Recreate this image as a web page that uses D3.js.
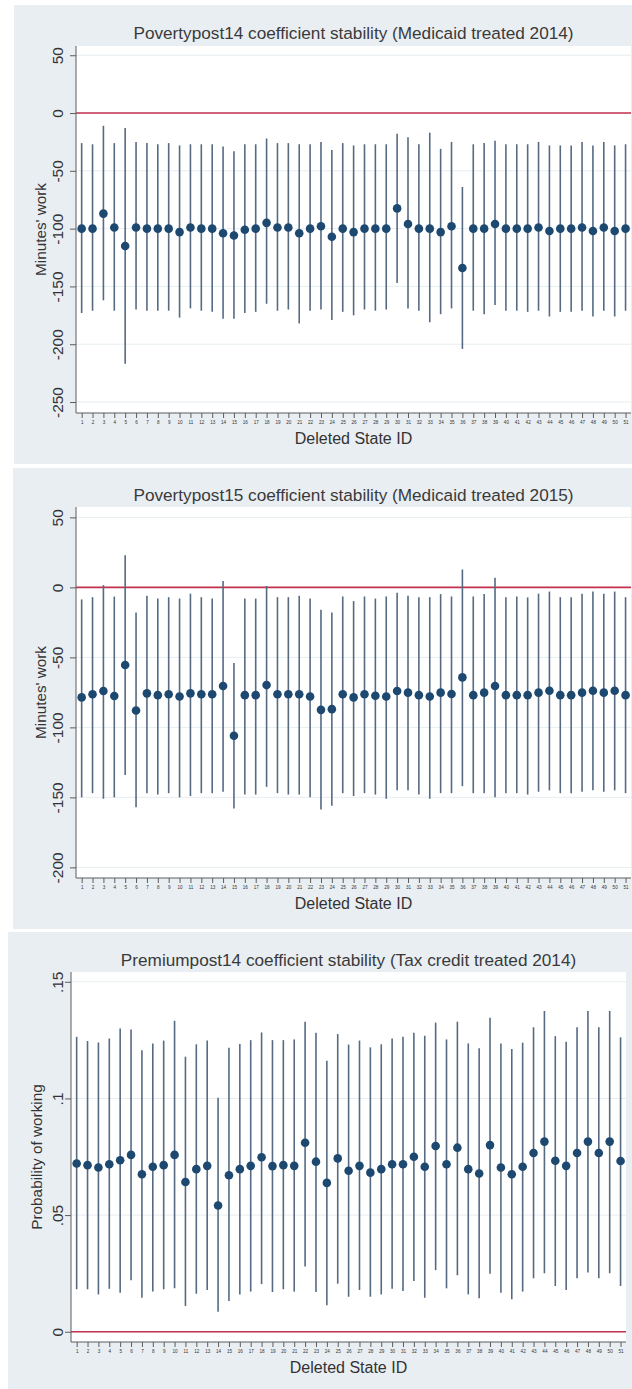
<!DOCTYPE html>
<html>
<head>
<meta charset="utf-8">
<script src="https://cdn.jsdelivr.net/npm/d3@7"></script>
<style>
  html, body { margin: 0; padding: 0; background: #ffffff; }
  svg { display: block; }
  text { font-family: "Liberation Sans", Arial, Helvetica, sans-serif; }
</style>
</head>
<body>
<svg id="chart" width="632" height="1389"></svg>
<script>
// Deleted state IDs (x categories)
const stateIds = [1,2,3,4,5,6,7,8,9,10,11,12,13,14,15,16,17,18,19,20,21,22,23,24,25,
  26,27,28,29,30,31,32,33,34,35,36,37,38,39,40,41,42,43,44,45,46,47,48,49,50,51];

// Povertypost14: point estimate and 95% CI (minutes of work)
const pov14Est = [-100,-100,-87,-99,-115,-99,-100,-100,-100,-103,-99,-100,-100,-104,-106,-101,-100,-95,-99,-99,
  -104,-100,-98,-107,-100,-103,-100,-100,-100,-82.5,-96,-100,-100,-103,-98,-134,-100,-100,-96,-100,
  -100,-100,-99,-102,-100,-100,-99,-102,-99,-102,-100];
const pov14Hi = [-26,-27,-11,-26,-13,-25,-26,-27,-26,-28,-27,-27,-27,-29,-33,-27,-27,-22,-26,-26,
  -27,-27,-25,-32,-26,-28,-27,-27,-27,-18,-21,-27,-17,-31,-25,-64,-27,-26,-24,-27,
  -27,-27,-25,-28,-28,-28,-25,-28,-25,-28,-27];
const pov14Lo = [-173,-171,-162,-171,-217,-170,-171,-171,-171,-177,-169,-171,-172,-178,-178,-173,-172,-165,-171,-170,
  -182,-171,-170,-179,-172,-175,-170,-171,-170,-147,-169,-171,-181,-174,-169,-204,-171,-174,-166,-171,
  -171,-172,-171,-176,-172,-172,-171,-176,-171,-176,-171];
const pov14Ticks = [50, 0, -50, -100, -150, -200, -250];
const pov14TickLabels = ["50", "0", "-50", "-100", "-150", "-200", "-250"];

// Povertypost15: point estimate and 95% CI (minutes of work)
const pov15Est = [-78.6,-76.4,-74,-77.6,-55.5,-88,-75.7,-77,-76.4,-78,-75.7,-76.4,-76.4,-70.5,-106,-77,-77,-69.8,-76.4,-76.4,
  -76.4,-78,-87.5,-87,-76.4,-78.6,-76.4,-77.4,-78,-74,-75.2,-77,-78,-75.2,-76.2,-64.3,-77,-75.2,-70.5,-77,
  -77,-77,-75.2,-73.8,-77,-77,-75.2,-73.8,-75.2,-73.8,-77];
const pov15Hi = [-8.6,-7,1.6,-6.6,23,-18,-6,-8,-7,-8,-4.5,-7,-8,4.5,-54,-8,-8,1,-7,-7,
  -6,-8,-16,-18,-6.5,-9.8,-6.5,-8,-6.5,-3.8,-6,-7,-7,-4.8,-6.5,12.8,-6.5,-4.8,6.9,-7,
  -6.5,-7.2,-4.5,-3,-7,-7,-4.5,-3,-4.5,-3,-7];
const pov15Lo = [-150,-147,-151,-150,-134,-157,-147,-148,-147,-150,-149,-147,-147,-146,-158,-148,-148,-142.5,-147,-148,
  -148,-150,-158.6,-156,-147,-149,-147,-148,-151,-145,-145,-148,-151,-147,-147,-142,-147,-147,-150,-147,
  -147,-148,-146,-145,-147,-147,-146,-145,-146,-145,-147];
const pov15Ticks = [50, 0, -50, -100, -150, -200];
const pov15TickLabels = ["50", "0", "-50", "-100", "-150", "-200"];

// Premiumpost14: point estimate and 95% CI (probability of working)
const prem14Est = [.0721,.0714,.0704,.0718,.0735,.0758,.0675,.0707,.0714,.0758,.0642,.0697,.0711,.0541,.0671,.0697,.0711,.0748,.0710,.0714,
  .0711,.0810,.0729,.0638,.0743,.0690,.0711,.0682,.0697,.0718,.0718,.0750,.0707,.0796,.0718,.0789,.0697,.0678,.0800,.0704,
  .0675,.0707,.0766,.0815,.0733,.0711,.0766,.0815,.0766,.0815,.0732];
const prem14Hi = [.1264,.1246,.1240,.1257,.1300,.1296,.1207,.1236,.1248,.1333,.1179,.1232,.1248,.1003,.1217,.1233,.1250,.1283,.1250,.1250,
  .1253,.1329,.1282,.1162,.1276,.1231,.1248,.1219,.1232,.1257,.1264,.1282,.1269,.1325,.1253,.1329,.1236,.1215,.1346,.1236,
  .1212,.1239,.1305,.1375,.1267,.1243,.1305,.1375,.1305,.1375,.1262];
const prem14Lo = [.0182,.0182,.0160,.0184,.0167,.0221,.0146,.0172,.0182,.0186,.0110,.0163,.0179,.0086,.0132,.0160,.0172,.0204,.0170,.0182,
  .0172,.0280,.0170,.0114,.0206,.0150,.0179,.0150,.0160,.0184,.0175,.0218,.0146,.0264,.0186,.0242,.0160,.0143,.0249,.0167,
  .0139,.0172,.0229,.0251,.0196,.0179,.0229,.0254,.0229,.0251,.0196];
const prem14Ticks = [0.15, 0.1, 0.05, 0];
const prem14TickLabels = [".15", ".1", ".05", "0"];

const xTitle = "Deleted State ID";

// Panel definitions: texts and data plus the frame each panel is drawn into
const panels = [
  { title: "Povertypost14 coefficient stability (Medicaid treated 2014)", yTitle: "Minutes' work",
    est: pov14Est, lo: pov14Lo, hi: pov14Hi, ticks: pov14Ticks, tickLabels: pov14TickLabels,
    bg: [14, 5, 618, 459], plot: { l: 76, r: 631, t: 46, b: 413 }, yDomain: [-259.5, 58],
    titleY: 39, yTitleX: 40 },
  { title: "Povertypost15 coefficient stability (Medicaid treated 2015)", yTitle: "Minutes' work",
    est: pov15Est, lo: pov15Lo, hi: pov15Hi, ticks: pov15Ticks, tickLabels: pov15TickLabels,
    bg: [13, 468, 619, 461], plot: { l: 76, r: 631, t: 507, b: 878 }, yDomain: [-207.6, 57.4],
    titleY: 501, yTitleX: 40 },
  { title: "Premiumpost14 coefficient stability (Tax credit treated 2014)", yTitle: "Probability of working",
    est: prem14Est, lo: prem14Lo, hi: prem14Hi, ticks: prem14Ticks, tickLabels: prem14TickLabels,
    bg: [8, 932, 624, 457], plot: { l: 71, r: 626, t: 972, b: 1342 }, yDomain: [-0.0044, 0.1542],
    titleY: 966, yTitleX: 36 }
];

const svg = d3.select("#chart");
const textColor = "#333333";
const axisColor = "#5c5c5c";

panels.forEach(p => {
  const g = svg.append("g");
  const { l, r, t, b } = p.plot;

  // graph region background
  g.append("rect").attr("x", p.bg[0]).attr("y", p.bg[1]).attr("width", p.bg[2]).attr("height", p.bg[3])
    .attr("fill", "#e9eef2");
  // plot region
  g.append("rect").attr("x", l).attr("y", t).attr("width", r - l).attr("height", b - t).attr("fill", "#ffffff");

  const x = d3.scaleLinear().domain([0.48, 51.5]).range([l, r]);
  const y = d3.scaleLinear().domain(p.yDomain).range([b, t]);

  // horizontal grid lines at the major ticks
  g.append("g").selectAll("line").data(p.ticks).join("line")
    .attr("x1", l).attr("x2", r).attr("y1", d => y(d)).attr("y2", d => y(d))
    .attr("stroke", "#e6edf1").attr("stroke-width", 1);

  // reference line at zero
  g.append("line").attr("x1", l).attr("x2", r).attr("y1", y(0)).attr("y2", y(0))
    .attr("stroke", "#c6304f").attr("stroke-width", 1.6);

  const rows = stateIds.map((id, i) => ({ id, est: p.est[i], lo: p.lo[i], hi: p.hi[i] }));

  // confidence interval spikes
  g.append("g").selectAll("line").data(rows).join("line")
    .attr("x1", d => x(d.id)).attr("x2", d => x(d.id))
    .attr("y1", d => y(d.hi)).attr("y2", d => y(d.lo))
    .attr("stroke", "#566b82").attr("stroke-width", 1.6);

  // point estimates
  g.append("g").selectAll("circle").data(rows).join("circle")
    .attr("cx", d => x(d.id)).attr("cy", d => y(d.est)).attr("r", 4.3)
    .attr("fill", "#1d4870");

  // y axis
  const yAxis = d3.axisLeft(y).tickValues(p.ticks)
    .tickFormat((d, i) => p.tickLabels[i]).tickSize(6).tickSizeOuter(0);
  const yg = g.append("g").attr("transform", `translate(${l},0)`).call(yAxis);
  yg.select(".domain").attr("stroke", axisColor).attr("d", `M0,${t}V${b}`);
  yg.selectAll(".tick line").attr("stroke", axisColor);
  yg.selectAll(".tick text")
    .attr("x", 0).attr("dy", 0)
    .attr("transform", `translate(${62.5 - l},0) rotate(-90)`)
    .attr("text-anchor", "middle")
    .attr("fill", textColor).attr("font-size", 15.5);

  // x axis
  const xAxis = d3.axisBottom(x).tickValues(stateIds).tickFormat(d3.format("d"))
    .tickSize(5).tickSizeOuter(0);
  const xg = g.append("g").attr("transform", `translate(0,${b})`).call(xAxis);
  xg.select(".domain").attr("stroke", axisColor).attr("d", `M${l},0H${r}`);
  xg.selectAll(".tick line").attr("stroke", axisColor);
  xg.selectAll(".tick text").attr("y", 8).attr("dy", "0.71em")
    .attr("fill", textColor).attr("font-size", 4.6);

  // titles
  g.append("text").attr("x", (l + r) / 2).attr("y", p.titleY).attr("text-anchor", "middle")
    .attr("fill", "#3a3a3a").attr("font-size", 17.2).text(p.title);
  g.append("text").attr("x", (l + r) / 2).attr("y", b + 31).attr("text-anchor", "middle")
    .attr("fill", textColor).attr("font-size", 16).text(xTitle);
  g.append("text")
    .attr("transform", `translate(${p.yTitleX},${(t + b) / 2}) rotate(-90)`)
    .attr("text-anchor", "middle").attr("dominant-baseline", "central")
    .attr("fill", textColor).attr("font-size", 15.3).text(p.yTitle);
});
</script>
</body>
</html>
